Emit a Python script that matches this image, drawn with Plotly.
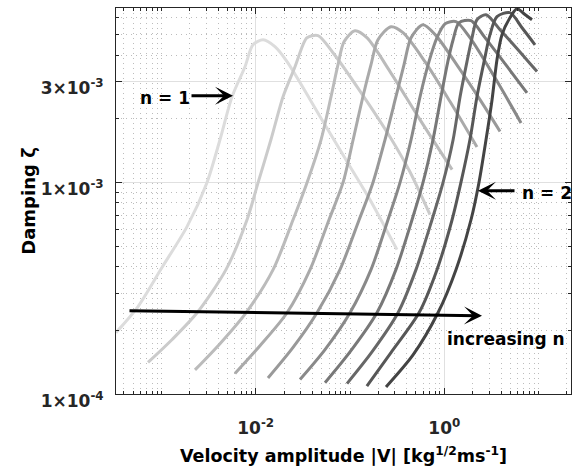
import plotly.graph_objects as go

# Velocity amplitude |V| and damping zeta for each curve (n increasing, light -> dark)
V1 = [0.00033,0.000565,0.00101,0.00187,0.00304,0.00418,0.00561,0.0077,0.00936,0.012,0.016,0.0215,0.0517,0.1,0.163,0.315]
Z1 = [1.95e-4,2.59e-4,3.95e-4,6.18e-4,9.97e-4,15.9e-4,25.4e-4,35.2e-4,44.7e-4,47.2e-4,43.8e-4,37.2e-4,19.4e-4,11.9e-4,8.28e-4,4.81e-4]
V2 = [0.000721,0.0013,0.00239,0.00484,0.00809,0.0106,0.0145,0.0195,0.0261,0.0317,0.035,0.0458,0.066,0.119,0.266,0.433,0.705]
Z2 = [1.41e-4,1.81e-4,2.42e-4,3.87e-4,6.66e-4,9.97e-4,15.9e-4,25.4e-4,35.2e-4,44.7e-4,48.3e-4,49.4e-4,41.0e-4,28.3e-4,16.4e-4,11.2e-4,7.04e-4]
V3 = [0.00227,0.00418,0.00789,0.0153,0.0249,0.035,0.0493,0.0629,0.0746,0.0864,0.113,0.151,0.266,0.552,1.21]
Z3 = [1.30e-4,1.73e-4,2.42e-4,3.87e-4,6.66e-4,9.97e-4,15.9e-4,25.4e-4,36.0e-4,46.2e-4,52.1e-4,48.3e-4,33.4e-4,19.8e-4,11.5e-4]
V4 = [0.00603,0.0111,0.0215,0.0377,0.0599,0.0843,0.108,0.137,0.167,0.198,0.272,0.365,0.624,1.15,2.22]
Z4 = [1.25e-4,1.69e-4,2.42e-4,3.87e-4,6.66e-4,9.97e-4,15.9e-4,25.4e-4,36.0e-4,47.2e-4,54.4e-4,51.0e-4,37.2e-4,24.1e-4,14.7e-4]
V5 = [0.0135,0.0249,0.0447,0.0783,0.125,0.175,0.235,0.307,0.374,0.444,0.594,0.817,1.47,2.39,3.9]
Z5 = [1.19e-4,1.66e-4,2.42e-4,3.87e-4,6.66e-4,9.97e-4,15.9e-4,25.4e-4,36.0e-4,48.3e-4,55.6e-4,49.4e-4,34.1e-4,24.6e-4,17.4e-4]
V6 = [0.0295,0.0543,0.1,0.167,0.253,0.339,0.444,0.553,0.688,0.837,1.02,1.33,1.87,3.45,6.51]
Z6 = [1.17e-4,1.62e-4,2.42e-4,3.87e-4,6.66e-4,9.97e-4,15.9e-4,25.4e-4,37.2e-4,48.3e-4,56.2e-4,57.5e-4,48.3e-4,31.2e-4,19.1e-4]
V7 = [0.0543,0.1,0.193,0.307,0.455,0.594,0.759,0.923,1.09,1.24,1.43,1.92,2.7,4.4,7.53]
Z7 = [1.13e-4,1.58e-4,2.42e-4,3.87e-4,6.66e-4,9.97e-4,15.9e-4,25.4e-4,37.2e-4,47.2e-4,56.8e-4,58.1e-4,48.3e-4,36.4e-4,26.5e-4]
V8 = [0.093,0.171,0.323,0.501,0.741,0.969,1.24,1.47,1.74,1.97,2.22,2.77,3.9,6.05,9.62]
Z8 = [1.12e-4,1.58e-4,2.42e-4,3.87e-4,6.66e-4,9.97e-4,15.9e-4,25.4e-4,37.2e-4,48.3e-4,58.7e-4,62.0e-4,52.7e-4,42.4e-4,33.4e-4]
V9 = [0.151,0.272,0.539,0.837,1.21,1.5,1.87,2.22,2.64,3.05,3.62,4.97,6.67,9.16]
Z9 = [1.09e-4,1.57e-4,2.42e-4,3.87e-4,6.66e-4,9.97e-4,15.9e-4,25.4e-4,37.2e-4,49.9e-4,60.7e-4,63.4e-4,53.8e-4,44.7e-4]
V10 = [0.241,0.466,0.857,1.33,1.92,2.33,2.77,3.21,3.62,4.09,4.97,5.9,7.0,8.51]
Z10 = [1.08e-4,1.53e-4,2.42e-4,3.87e-4,6.66e-4,9.97e-4,15.9e-4,24.6e-4,38.0e-4,49.9e-4,60.0e-4,66.2e-4,62.7e-4,58.7e-4]

curves = [(V1, Z1), (V2, Z2), (V3, Z3), (V4, Z4), (V5, Z5),
          (V6, Z6), (V7, Z7), (V8, Z8), (V9, Z9), (V10, Z10)]
gray = [220, 203, 187, 170, 153, 137, 120, 103, 87, 68]

x_ticks = [1e-2, 1]
x_ticktext = ['10<sup>-2</sup>', '10<sup>0</sup>']
y_ticks = [1e-4, 1e-3, 3e-3]
y_ticktext = ['1×10<sup>-4</sup>', '1×10<sup>-3</sup>', '3×10<sup>-3</sup>']

fig = go.Figure()
for (V, Z), g in zip(curves, gray):
    fig.add_trace(go.Scatter(x=V, y=Z, mode='lines',
                             line=dict(color=f'rgb({g},{g},{g})', width=3, shape='spline', smoothing=0.8),
                             showlegend=False, hoverinfo='skip'))

xminor = []
for d in range(-4, 2):
    for m in range(1, 10):
        v = m * 10.0**d
        if v not in (1e-2, 1.0):
            xminor.append(v)
yminor = [m*1e-4 for m in range(2, 10)] + [2e-3, 4e-3, 5e-3, 6e-3]

FONT = 'DejaVu Sans'
axcol = '#262626'
common = dict(type='log', ticks='inside', ticklen=6, tickwidth=1, tickcolor=axcol,
              showline=True, linecolor=axcol, linewidth=1, mirror='allticks',
              showgrid=True, gridcolor='#e0e0e0', gridwidth=1, zeroline=False,
              tickfont=dict(family=FONT, size=17, weight='bold', color=axcol),
              automargin=False)
minor_style = dict(ticks='inside', ticklen=3, tickcolor=axcol,
                   showgrid=True, gridcolor='#bcbcbc', griddash='1px,4px')
fig.update_xaxes(range=[-3.4814, 1.3436], tickmode='array', tickvals=x_ticks,
                 ticktext=x_ticktext, ticklabelstandoff=19,
                 minor=dict(tickvals=xminor, **minor_style),
                 title=dict(text='Velocity amplitude |V| [kg<sup>1/2</sup>ms<sup>-1</sup>]',
                            font=dict(family=FONT, size=17.5, weight='bold', color='black'), standoff=12),
                 **common)
fig.update_yaxes(range=[-4.0, -2.1758], tickmode='array', tickvals=y_ticks,
                 ticktext=y_ticktext, ticklabelstandoff=8, ticklabelshift=7,
                 minor=dict(tickvals=yminor, **minor_style),
                 title=dict(text='Damping ζ', font=dict(family=FONT, size=18, weight='bold', color='black'), standoff=0),
                 **common)

def P(px, py):
    return (px-116)/455, (394.3-py)/386

ann = []
def arrow(tip, tail):
    x, y = P(*tip)
    ann.append(dict(x=x, y=y, xref='paper', yref='paper', text='', showarrow=True,
                    ax=tail[0]-tip[0], ay=tail[1]-tip[1], arrowhead=3, arrowwidth=3,
                    arrowsize=1, arrowcolor='black'))
def label(txt, c):
    x, y = P(*c)
    ann.append(dict(x=x, y=y, xref='paper', yref='paper', text=txt, showarrow=False,
                    xanchor='center', yanchor='middle',
                    font=dict(family=FONT, size=17, weight='bold', color='black')))
arrow((233, 96), (190, 96))
label('n = 1', (165, 98))
arrow((478, 191), (516, 191))
label('n = 2', (547, 193))
arrow((482, 316), (128, 311))
label('increasing n', (506, 339))

fig.update_layout(width=578, height=474, margin=dict(l=116, r=7, t=8, b=80, autoexpand=False),
                  paper_bgcolor='white', plot_bgcolor='white', annotations=ann)
fig.write_html("out.html")
